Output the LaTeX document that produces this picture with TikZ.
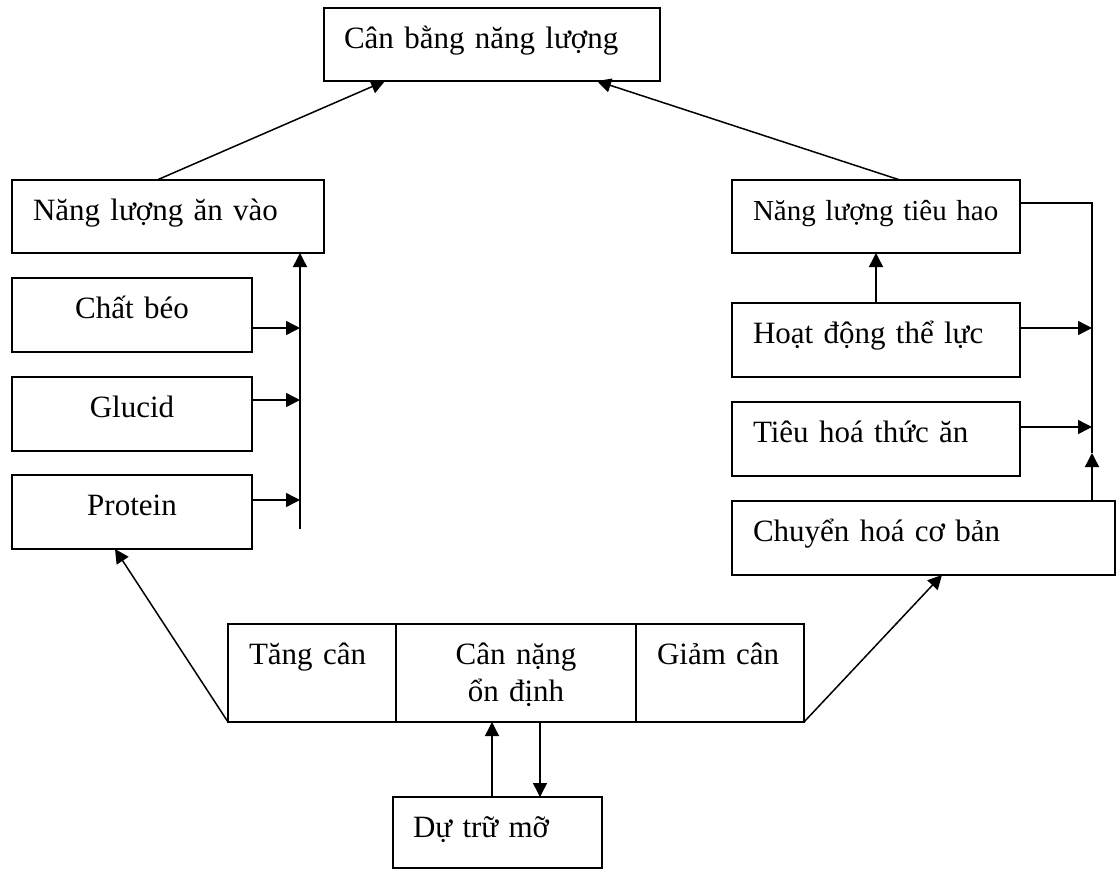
\documentclass[tikz,border=0pt]{standalone}
\usepackage{fontspec}
\setmainfont{Liberation Serif}
\usetikzlibrary{arrows.meta,calc}
\tikzset{
  box/.style={draw, line width=1.5pt, inner xsep=21pt, inner ysep=0pt, outer sep=0pt,
    anchor=north west, text height=40pt, align=left,
    font=\fontsize{31}{37}\selectfont},
  arr/.style={line width=1.5pt, -{Triangle[length=14pt,width=14pt]}},
  ln/.style={line width=1.5pt}
}
\begin{document}
\begin{tikzpicture}[x=1pt,y=-1pt]
\useasboundingbox[fill=white] (0,0) rectangle (1117,871);
% top
\node[box, inner xsep=20pt, text width=296pt, text depth=33pt] (top) at (324,8) {Cân bằng năng lượng};
% left column
\node[box, text width=270pt, text depth=33pt] (nlav) at (12,180) {Năng lượng ăn vào};
\node[box, align=center, text width=198pt, text depth=34pt] (cb) at (12,278) {Chất béo};
\node[box, align=center, text width=198pt, text depth=34pt] (gl) at (12,377) {Glucid};
\node[box, align=center, text width=198pt, text depth=34pt] (pr) at (12,475) {Protein};
% right column
\node[box, text width=246pt, text depth=33pt, font=\fontsize{29}{35}\selectfont] (nlth) at (732,180) {Năng lượng tiêu hao};
\node[box, text width=246pt, text depth=34pt] (hd) at (732,303) {Hoạt động thể lực};
\node[box, text width=246pt, text depth=34pt] (th) at (732,402) {Tiêu hoá thức ăn};
\node[box, text width=341pt, text depth=34pt] (ch) at (732,501) {Chuyển hoá cơ bản};
% bottom row
\node[box, text width=126pt, text depth=58pt] (tc) at (228,624) {Tăng cân};
\node[box, align=center, text width=198pt, text depth=58pt] (cn) at (396,624) {Cân nặng\\ổn định};
\node[box, text width=126pt, text depth=58pt] (gc) at (636,624) {Giảm cân};
\node[box, inner xsep=20pt, text width=169pt, text depth=31pt] (dt) at (393,797) {Dự trữ mỡ};
% junction coordinates
\coordinate (lbot) at (300,529);
\coordinate (j1) at (300,328);
\coordinate (j2) at (300,400);
\coordinate (j3) at (300,500);
\coordinate (k0) at (1092,203);
\coordinate (k1) at (1092,328);
\coordinate (k2) at (1092,427);
\coordinate (k3) at (1092,453);
% connectors to top
\draw[arr] ($(nlav.north west)+(145,0)$) -- ($(top.south west)+(61,0)$);
\draw[arr] ($(nlth.north west)+(168,0)$) -- ($(top.south west)+(273,0)$);
% left
\draw[arr] (lbot) -- (lbot |- nlav.south);
\draw[arr] (cb.east |- j1) -- (j1);
\draw[arr] (gl.east |- j2) -- (j2);
\draw[arr] (pr.east |- j3) -- (j3);
% right
\draw[arr] (hd.north) -- (nlth.south);
\draw[ln] (nlth.east |- k0) -- (k0) -- (k3);
\draw[arr] (ch.north -| k3) -- (k3);
\draw[arr] (hd.east |- k1) -- (k1);
\draw[arr] (th.east |- k2) -- (k2);
% bottom
\draw[arr] (tc.south west) -- ($(pr.south west)+(103,0)$);
\draw[arr] (gc.south east) -- ($(ch.south west)+(210,0)$);
\coordinate (d1) at ($(dt.north west)+(99,0)$);
\coordinate (d2) at ($(dt.north west)+(147,0)$);
\draw[arr] (d1) -- (d1 |- cn.south);
\draw[arr] (d2 |- cn.south) -- (d2);
\end{tikzpicture}
\end{document}
